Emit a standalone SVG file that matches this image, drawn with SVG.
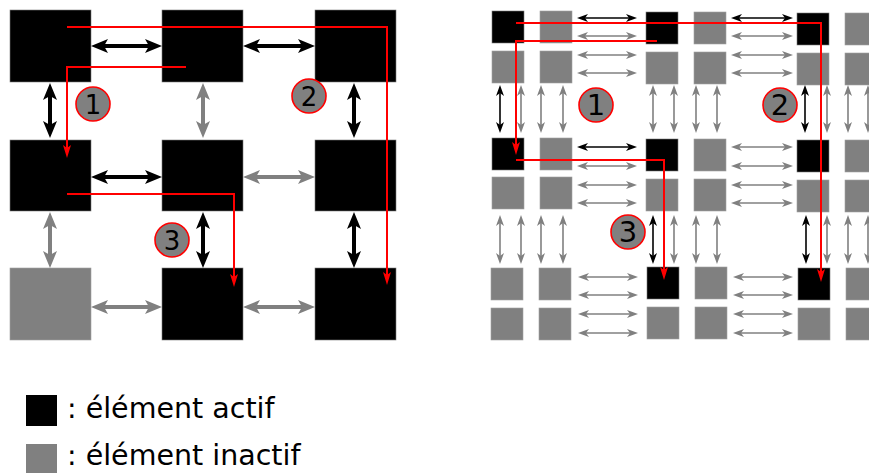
<svg xmlns="http://www.w3.org/2000/svg" width="869" height="473" viewBox="0 0 869 473">
<style>
.a{fill:#000;stroke:#7a7a7a;stroke-width:0.6}
.i{fill:#808080;stroke:#a0a0a0;stroke-width:0.6}
.tb{stroke:#000;stroke-width:4;fill:none;marker-start:url(#hb);marker-end:url(#hb)}
.tg{stroke:#808080;stroke-width:4;fill:none;marker-start:url(#hg);marker-end:url(#hg)}
.nb{stroke:#000;stroke-width:1.6;fill:none;marker-start:url(#sb);marker-end:url(#sb)}
.ng{stroke:#808080;stroke-width:1.6;fill:none;marker-start:url(#sg);marker-end:url(#sg)}
.r{stroke:#ff0000;stroke-width:2;fill:none;marker-end:url(#hr)}
.c{fill:#808080;stroke:#ff0000;stroke-width:1.6}
.n{font-family:"DejaVu Sans",sans-serif;font-size:26px;fill:#000;text-anchor:middle}
.n2{font-family:"DejaVu Sans",sans-serif;font-size:29px;fill:#000;text-anchor:middle}
.l{font-family:"DejaVu Sans",sans-serif;font-size:28.5px;fill:#000}
</style>
<defs>
<marker id="hb" markerUnits="userSpaceOnUse" markerWidth="17" markerHeight="14" viewBox="0 0 17 14" refX="7" refY="7" orient="auto-start-reverse"><path d="M0,0 L17,7 L0,14 L4,7 Z" fill="#000"/></marker>
<marker id="hg" markerUnits="userSpaceOnUse" markerWidth="17" markerHeight="14" viewBox="0 0 17 14" refX="7" refY="7" orient="auto-start-reverse"><path d="M0,0 L17,7 L0,14 L4,7 Z" fill="#808080"/></marker>
<marker id="sb" markerUnits="userSpaceOnUse" markerWidth="11" markerHeight="8" viewBox="0 0 11 8" refX="4" refY="4" orient="auto-start-reverse"><path d="M0,0 L11,4 L0,8 L3,4 Z" fill="#000"/></marker>
<marker id="sg" markerUnits="userSpaceOnUse" markerWidth="11" markerHeight="8" viewBox="0 0 11 8" refX="4" refY="4" orient="auto-start-reverse"><path d="M0,0 L11,4 L0,8 L3,4 Z" fill="#808080"/></marker>
<marker id="hr" markerUnits="userSpaceOnUse" markerWidth="13" markerHeight="8" viewBox="0 0 13 8" refX="5" refY="4" orient="auto"><path d="M0,0 L13,4 L0,8 L3,4 Z" fill="#ff0000"/></marker>
</defs>

<!-- Left grid nodes -->
<g id="L11"><rect class="a" x="10" y="10" width="81" height="72"/></g>
<g id="L12"><rect class="a" x="162" y="10" width="81" height="72"/></g>
<g id="L13"><rect class="a" x="315" y="10" width="81" height="72"/></g>
<g id="L21"><rect class="a" x="10" y="140" width="81" height="71"/></g>
<g id="L22"><rect class="a" x="162" y="140" width="81" height="71"/></g>
<g id="L23"><rect class="a" x="315" y="140" width="81" height="71"/></g>
<g id="L31"><rect class="i" x="10" y="268" width="81" height="72"/></g>
<g id="L32"><rect class="a" x="162" y="268" width="81" height="72"/></g>
<g id="L33"><rect class="a" x="315" y="268" width="81" height="72"/></g>

<!-- Right grid nodes -->
<g id="R11"><rect class="a" x="492" y="11" width="32" height="32"/></g>
<g id="R12"><rect class="i" x="540" y="11" width="32" height="32"/></g>
<g id="R13"><rect class="a" x="646" y="12" width="32" height="32"/></g>
<g id="R14"><rect class="i" x="694" y="12" width="32" height="32"/></g>
<g id="R15"><rect class="a" x="797" y="13" width="32" height="32"/></g>
<g id="R16"><rect class="i" x="845" y="13" width="32" height="32"/></g>
<g id="R21"><rect class="i" x="492" y="51" width="32" height="32"/></g>
<g id="R22"><rect class="i" x="540" y="51" width="32" height="32"/></g>
<g id="R23"><rect class="i" x="646" y="52" width="32" height="32"/></g>
<g id="R24"><rect class="i" x="694" y="52" width="32" height="32"/></g>
<g id="R25"><rect class="i" x="797" y="53" width="32" height="32"/></g>
<g id="R26"><rect class="i" x="845" y="53" width="32" height="32"/></g>
<g id="R31"><rect class="a" x="492" y="138" width="32" height="32"/></g>
<g id="R32"><rect class="i" x="540" y="138" width="32" height="32"/></g>
<g id="R33"><rect class="a" x="646" y="139" width="32" height="32"/></g>
<g id="R34"><rect class="i" x="694" y="139" width="32" height="32"/></g>
<g id="R35"><rect class="a" x="797" y="140" width="32" height="32"/></g>
<g id="R36"><rect class="i" x="845" y="140" width="32" height="32"/></g>
<g id="R41"><rect class="i" x="492" y="177" width="32" height="32"/></g>
<g id="R42"><rect class="i" x="540" y="177" width="32" height="32"/></g>
<g id="R43"><rect class="i" x="646" y="179" width="32" height="32"/></g>
<g id="R44"><rect class="i" x="694" y="179" width="32" height="32"/></g>
<g id="R45"><rect class="i" x="797" y="180" width="32" height="32"/></g>
<g id="R46"><rect class="i" x="845" y="180" width="32" height="32"/></g>
<g id="R51"><rect class="i" x="491" y="268" width="32" height="32"/></g>
<g id="R52"><rect class="i" x="539" y="268" width="32" height="32"/></g>
<g id="R53"><rect class="a" x="647" y="267" width="32" height="32"/></g>
<g id="R54"><rect class="i" x="695" y="267" width="32" height="32"/></g>
<g id="R55"><rect class="a" x="798" y="268" width="32" height="32"/></g>
<g id="R56"><rect class="i" x="846" y="268" width="32" height="32"/></g>
<g id="R61"><rect class="i" x="491" y="308" width="32" height="32"/></g>
<g id="R62"><rect class="i" x="539" y="308" width="32" height="32"/></g>
<g id="R63"><rect class="i" x="647" y="307" width="32" height="32"/></g>
<g id="R64"><rect class="i" x="695" y="307" width="32" height="32"/></g>
<g id="R65"><rect class="i" x="798" y="308" width="32" height="32"/></g>
<g id="R66"><rect class="i" x="846" y="308" width="32" height="32"/></g>

<g id="connectors">
<!-- left grid -->
<line class="tb" x1="101" y1="46" x2="152" y2="46"/>
<line class="tb" x1="253" y1="46" x2="305" y2="46"/>
<line class="tb" x1="101" y1="177" x2="152" y2="177"/>
<line class="tg" x1="253" y1="177" x2="305" y2="177"/>
<line class="tg" x1="101" y1="307" x2="152" y2="307"/>
<line class="tg" x1="253" y1="307" x2="305" y2="307"/>
<line class="tb" x1="50" y1="93" x2="50" y2="128"/>
<line class="tg" x1="203" y1="93" x2="203" y2="128"/>
<line class="tb" x1="354" y1="93" x2="354" y2="128"/>
<line class="tg" x1="50" y1="222" x2="50" y2="258"/>
<line class="tb" x1="203" y1="222" x2="203" y2="258"/>
<line class="tb" x1="354" y1="222" x2="354" y2="258"/>

<!-- right grid horizontal -->
<line class="nb" x1="584" y1="18" x2="630" y2="18"/>
<line class="ng" x1="584" y1="36" x2="630" y2="36"/>
<line class="ng" x1="584" y1="55" x2="630" y2="55"/>
<line class="ng" x1="584" y1="73" x2="630" y2="73"/>
<line class="nb" x1="584" y1="147" x2="630" y2="147"/>
<line class="ng" x1="584" y1="166" x2="630" y2="166"/>
<line class="ng" x1="584" y1="185" x2="630" y2="185"/>
<line class="ng" x1="584" y1="203" x2="630" y2="203"/>
<line class="ng" x1="585" y1="277" x2="631" y2="277"/>
<line class="ng" x1="585" y1="295" x2="631" y2="295"/>
<line class="ng" x1="585" y1="314" x2="631" y2="314"/>
<line class="ng" x1="585" y1="333" x2="631" y2="333"/>
<line class="nb" x1="738" y1="18" x2="786" y2="18"/>
<line class="ng" x1="738" y1="36" x2="786" y2="36"/>
<line class="ng" x1="738" y1="55" x2="786" y2="55"/>
<line class="ng" x1="738" y1="73" x2="786" y2="73"/>
<line class="ng" x1="738" y1="147" x2="786" y2="147"/>
<line class="ng" x1="738" y1="166" x2="786" y2="166"/>
<line class="ng" x1="738" y1="185" x2="786" y2="185"/>
<line class="ng" x1="738" y1="203" x2="786" y2="203"/>
<line class="ng" x1="740" y1="277" x2="786" y2="277"/>
<line class="ng" x1="740" y1="295" x2="786" y2="295"/>
<line class="ng" x1="740" y1="314" x2="786" y2="314"/>
<line class="ng" x1="740" y1="333" x2="786" y2="333"/>

<!-- right grid vertical -->
<line class="nb" x1="500" y1="92" x2="500" y2="126"/>
<line class="ng" x1="521" y1="92" x2="521" y2="126"/>
<line class="ng" x1="541" y1="92" x2="541" y2="126"/>
<line class="ng" x1="563" y1="92" x2="563" y2="126"/>
<line class="ng" x1="653" y1="92" x2="653" y2="126"/>
<line class="ng" x1="674" y1="92" x2="674" y2="126"/>
<line class="ng" x1="696" y1="92" x2="696" y2="126"/>
<line class="ng" x1="717" y1="92" x2="717" y2="126"/>
<line class="nb" x1="805" y1="92" x2="805" y2="126"/>
<line class="ng" x1="827" y1="92" x2="827" y2="126"/>
<line class="ng" x1="848" y1="92" x2="848" y2="126"/>
<line class="ng" x1="868" y1="92" x2="868" y2="126"/>
<line class="ng" x1="500" y1="222" x2="500" y2="257"/>
<line class="ng" x1="521" y1="222" x2="521" y2="257"/>
<line class="ng" x1="541" y1="222" x2="541" y2="257"/>
<line class="ng" x1="563" y1="222" x2="563" y2="257"/>
<line class="nb" x1="653" y1="222" x2="653" y2="257"/>
<line class="ng" x1="674" y1="222" x2="674" y2="257"/>
<line class="ng" x1="696" y1="222" x2="696" y2="257"/>
<line class="ng" x1="717" y1="222" x2="717" y2="257"/>
<line class="nb" x1="806" y1="222" x2="806" y2="257"/>
<line class="ng" x1="827" y1="222" x2="827" y2="257"/>
<line class="ng" x1="848" y1="222" x2="848" y2="257"/>
<line class="ng" x1="868" y1="222" x2="868" y2="257"/>

<!-- red paths -->
<path class="r" d="M67,27 H387 V277"/>
<path class="r" d="M186,67 H67 V150"/>
<path class="r" d="M67,194 H234 V279"/>
<path class="r" d="M516,23 H821 V274"/>
<path class="r" d="M657,41 H516 V147"/>
<path class="r" d="M516,160 H664 V272"/>
</g>

<g id="m1"><circle class="c" cx="93" cy="104" r="17"/><text class="n" x="93" y="114">1</text></g>
<g id="m2"><circle class="c" cx="309" cy="96" r="17"/><text class="n" x="309" y="106">2</text></g>
<g id="m3"><circle class="c" cx="172" cy="240" r="17"/><text class="n" x="172" y="250">3</text></g>
<g id="m4"><circle class="c" cx="596" cy="105" r="17"/><text class="n2" x="596" y="115">1</text></g>
<g id="m5"><circle class="c" cx="780" cy="105" r="17"/><text class="n2" x="780" y="115">2</text></g>
<g id="m6"><circle class="c" cx="628" cy="232" r="17"/><text class="n2" x="628" y="242">3</text></g>

<g id="legend">
<rect x="26" y="395" width="31" height="31" fill="#000"/>
<text class="l" x="67" y="418">: élément actif</text>
<rect x="26" y="444" width="31" height="29" fill="#808080"/>
<text class="l" x="67" y="465">: élément inactif</text>
</g>
</svg>
